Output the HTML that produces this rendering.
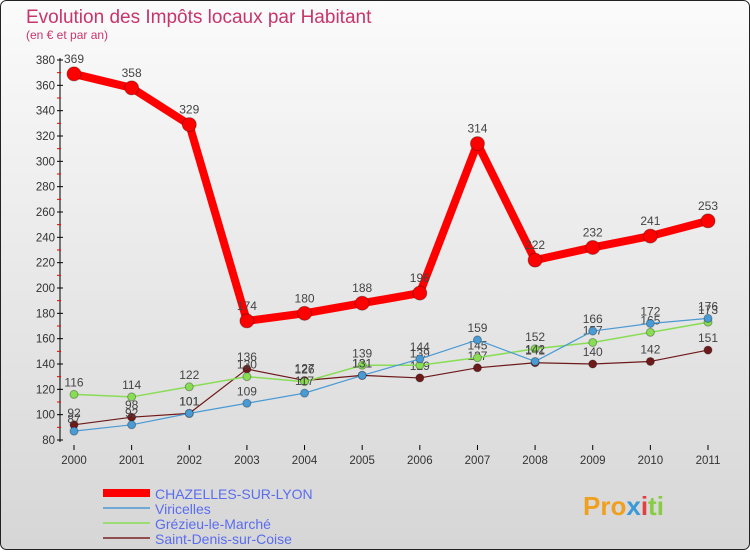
<!DOCTYPE html>
<html><head><meta charset="utf-8"><style>
html,body{margin:0;padding:0;}
body{width:750px;height:550px;overflow:hidden;font-family:"Liberation Sans",sans-serif;}
</style></head><body>
<svg id="chart" width="750" height="550" xmlns="http://www.w3.org/2000/svg" font-family="Liberation Sans, sans-serif">
<defs><linearGradient id="bg" x1="0" y1="0" x2="0" y2="1"><stop offset="0" stop-color="#fbfbfb"/><stop offset="1" stop-color="#d6d6d6"/></linearGradient></defs>
<rect x="0.5" y="0.5" width="749" height="549" rx="6" fill="url(#bg)" stroke="#222"/>
<text x="26" y="23" font-size="19" fill="#c8356a">Evolution des Impôts locaux par Habitant</text>
<text x="26" y="39" font-size="12" fill="#c8356a">(en € et par an)</text>
<g id="plot"></g>
<g>
<line x1="103" y1="493" x2="150" y2="493" stroke="#ff0000" stroke-width="8"/><text x="155" y="499" font-size="14" fill="#5a6cf0">CHAZELLES-SUR-LYON</text>
<line x1="103" y1="508" x2="150" y2="508" stroke="#4a9ad4" stroke-width="1.5"/><text x="155" y="514" font-size="14" fill="#5a6cf0">Viricelles</text>
<line x1="103" y1="523" x2="150" y2="523" stroke="#88dd55" stroke-width="1.5"/><text x="155" y="529" font-size="14" fill="#5a6cf0">Grézieu-le-Marché</text>
<line x1="103" y1="538" x2="150" y2="538" stroke="#7a2020" stroke-width="1.5"/><text x="155" y="544" font-size="14" fill="#5a6cf0">Saint-Denis-sur-Coise</text>
</g>
<text x="583" y="515" font-size="26" font-weight="bold" fill="#f0a020">Pro<tspan fill="#3a9ad8">x</tspan><tspan fill="#e04040">i</tspan><tspan fill="#88cc44">ti</tspan></text>
</svg>
<script>
const years=[2000,2001,2002,2003,2004,2005,2006,2007,2008,2009,2010,2011];
const chazelles=[369,358,329,174,180,188,196,314,222,232,241,253];
const viricelles=[87,92,101,109,117,131,144,159,142,166,172,176];
const grezieu=[116,114,122,130,126,139,139,145,152,157,165,173];
const stdenis=[92,98,101,136,127,131,129,137,141,140,142,151];
const yTicks=[80,100,120,140,160,180,200,220,240,260,280,300,320,340,360,380];
const NS="http://www.w3.org/2000/svg";
const g=document.getElementById('plot');
const x=i=>74+i*(708-74)/(years.length-1);
const y=v=>440-(v-80)*(380/300);
function el(t,a,p){const e=document.createElementNS(NS,t);for(const k in a)e.setAttribute(k,a[k]);(p||g).appendChild(e);return e;}
const ax=el('line',{x1:60,y1:58,x2:60,y2:442,stroke:'#000'});

yTicks.forEach((v,i)=>{el('line',{x1:57,y1:y(v),x2:63,y2:y(v),stroke:'#000'});
 if(i<yTicks.length-1)el('line',{x1:57,y1:y(v+10),x2:61,y2:y(v+10),stroke:'#e00'});
 const t=el('text',{x:55,y:y(v)+4,'font-size':11.5,fill:'#333','text-anchor':'end'});t.textContent=v;
 });
years.forEach((yr,i)=>{el('line',{x1:x(i),y1:445,x2:x(i),y2:450,stroke:'#000'});
 const t=el('text',{x:x(i),y:464,'font-size':11.5,fill:'#333','text-anchor':'middle'});t.textContent=yr;
 });
function series(d,col,w,r,name){
 const p=el('polyline',{points:d.map((v,i)=>x(i)+','+y(v)).join(' '),fill:'none',stroke:col,'stroke-width':w,'stroke-linejoin':'round'});
 
 d.forEach((v,i)=>{const c=el('circle',{cx:x(i),cy:y(v),r:r,fill:col,stroke:'rgba(0,0,0,0.3)'});
  
  const t=el('text',{x:x(i),y:y(v)-r-4,'font-size':12,fill:'#444','text-anchor':'middle'});t.textContent=v;
  });
}
series(stdenis,'#6e1a1a',1.2,4,'saint-denis');
series(grezieu,'#88dd55',1.5,4,'grezieu');
series(viricelles,'#4a9ad4',1.2,4,'viricelles');
series(chazelles,'#ff0000',8,7,'chazelles');
</script>
</body></html>
